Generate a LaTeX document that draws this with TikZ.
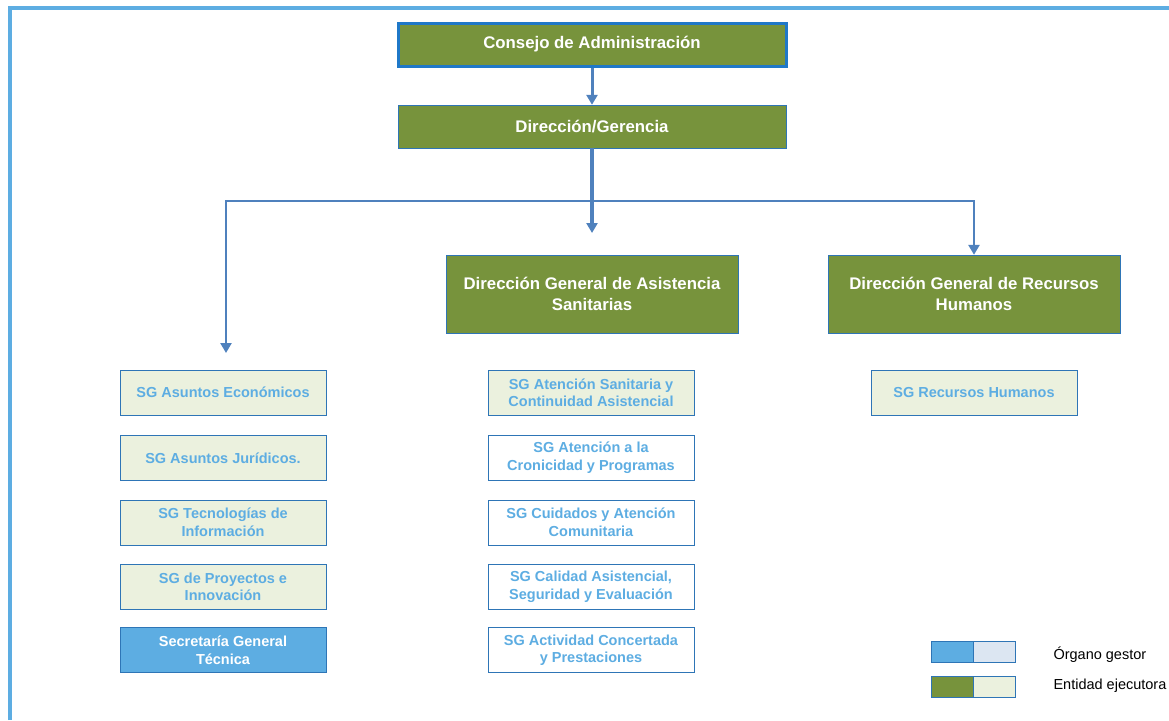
\documentclass[tikz,border=0pt]{standalone}
\usepackage{fontspec}
\setmainfont{Liberation Sans}
\usepackage{xcolor}
\usetikzlibrary{positioning,arrows.meta}

\definecolor{entgreen}{HTML}{77933C}
\definecolor{paleolive}{HTML}{EBF1DE}
\definecolor{skyblue}{HTML}{5DADE2}
\definecolor{paleblue}{HTML}{DCE6F2}
\definecolor{edgeblue}{HTML}{2E75B6}
\definecolor{boardblue}{HTML}{1F78C8}
\definecolor{linkblue}{HTML}{4F81BD}

\begin{document}
\begin{tikzpicture}[x=1pt, y=-1pt,
    node distance=19pt,
    head/.style={rectangle, draw=edgeblue, fill=entgreen, text=white, minimum width=388pt, minimum height=43pt, align=center, font=\fontsize{16.8}{20.5}\selectfont\bfseries},
    dgbox/.style={head, minimum width=292pt, minimum height=78pt},
    sgbox/.style={rectangle, draw=edgeblue, fill=paleolive, text=skyblue, minimum width=206pt, minimum height=45pt, inner sep=2pt, align=center, font=\fontsize{14.5}{17.5}\selectfont\bfseries},
    legbox/.style={rectangle, draw=edgeblue, minimum width=42pt, minimum height=21pt, inner sep=0pt},
    legtext/.style={anchor=west, font=\fontsize{14.5}{17}\selectfont},
    arrow/.style={-{Triangle[width=11pt,length=10pt]}, line width=3pt, draw=linkblue},
    frame/.style={line width=3.2pt, draw=skyblue}
]
\useasboundingbox (0,0) rectangle (1169,720);

% Frame
\draw[frame] (10,720) -- (10,8) -- (1169,8);

% Top
\node[head, line width=3pt, draw=boardblue] (board) at (592,44.5) {Consejo de Administración};
\node[head] (mgmt) at (592,126.5) {Dirección/Gerencia};

% General directorates
\node[dgbox] (dgcare) at (592,294) {Dirección General de Asistencia\\Sanitarias};
\node[dgbox] (dghr) at (974,294) {Dirección General de Recursos\\Humanos};

% Left column
\node[sgbox] (econ) at (223,392.5) {SG Asuntos Económicos};
\node[sgbox, below=20pt of econ] (legal) {SG Asuntos Jurídicos.};
\node[sgbox, below=of legal] (tech) {SG Tecnologías de\\Información};
\node[sgbox, below=of tech] (proj) {SG de Proyectos e\\Innovación};
\node[sgbox, fill=skyblue, text=white, below=18pt of proj] (secgen) {Secretaría General\\Técnica};

% Middle column
\node[sgbox] (care) at (591,392.5) {SG Atención Sanitaria y\\Continuidad Asistencial};
\node[sgbox, fill=white, below=20pt of care] (chron) {SG Atención a la\\Cronicidad y Programas};
\node[sgbox, fill=white, below=of chron] (nurse) {SG Cuidados y Atención\\Comunitaria};
\node[sgbox, fill=white, below=of nurse] (qual) {SG Calidad Asistencial,\\Seguridad y Evaluación};
\node[sgbox, fill=white, below=18pt of qual] (agree) {SG Actividad Concertada\\y Prestaciones};

% Right column
\node[sgbox] (hr) at (974,392.5) {SG Recursos Humanos};

% Arrows
\coordinate (hub) at (592,201);
\coordinate (midend) at (592,233);
\coordinate (leftend) at (226,353);
\draw[arrow] (board) -- (mgmt);
\draw[arrow, line width=4pt] (mgmt) -- (midend);
\draw[arrow, line width=2.6pt] (hub) -| (leftend);
\draw[arrow, line width=2.6pt] (hub) -| (dghr.north);

% Legend
\node[legbox, fill=skyblue] (gestA) at (952,651.5) {};
\node[legbox, fill=paleblue, right=0pt of gestA] (gestB) {};
\node[legbox, fill=entgreen] (ejecA) at (952,686.5) {};
\node[legbox, fill=paleolive, right=0pt of ejecA] (ejecB) {};
\node[legtext] (gestlbl) at (1050,655) {Órgano gestor};
\node[legtext] (ejeclbl) at (1050,686) {Entidad ejecutora};

\end{tikzpicture}
\end{document}
